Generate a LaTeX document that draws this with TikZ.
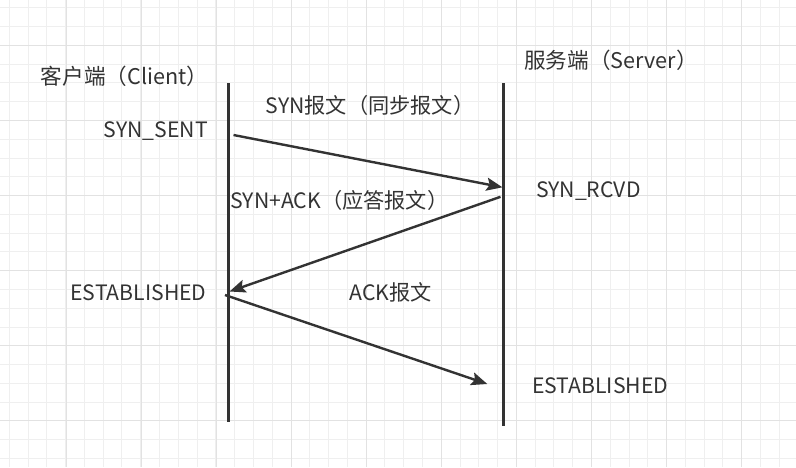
\documentclass[tikz,border=0pt]{standalone}
\usepackage{fontspec}
\setmainfont{Noto Sans CJK SC}
\usetikzlibrary{arrows.meta}
\definecolor{ink}{HTML}{333333}
\definecolor{gridminor}{HTML}{EFEFEF}
\definecolor{gridmajor}{HTML}{E2E2E2}
\begin{document}
\begin{tikzpicture}[x=1pt,y=-1pt,
  life/.style={draw=ink, line width=2.8pt},
  msg/.style={draw=ink, line width=2.4pt, -{Stealth[length=16pt,width=13pt,inset=3pt]}},
  ttl/.style={text=ink, font=\fontsize{21.6}{25}\selectfont, inner sep=0pt},
  lab/.style={text=ink, font=\fontsize{21.2}{24}\selectfont, inner sep=0pt}]
\useasboundingbox[fill=white] (0,0) rectangle (796,467);
% background grid
\foreach \gx in {0,...,42}
  \draw[gridminor, line width=1pt] ({9.3+18.78*\gx},0) -- ({9.3+18.78*\gx},467);
\foreach \gy in {0,...,24}
  \draw[gridminor, line width=1pt] (0,{7.8+18.78*\gy}) -- (796,{7.8+18.78*\gy});
\foreach \gx in {0,...,9}
  \draw[gridmajor, line width=1pt] ({66+75.1*\gx},0) -- ({66+75.1*\gx},467);
\foreach \gy in {0,...,5}
  \draw[gridmajor, line width=1pt] (0,{45.3+75.1*\gy}) -- (796,{45.3+75.1*\gy});
% lifelines
\coordinate (ctop) at (228.5,83);
\coordinate (cbot) at (228.5,422);
\coordinate (stop) at (503.3,83);
\coordinate (sbot) at (503.3,425.5);
\draw[life] (ctop) -- (cbot);
\draw[life] (stop) -- (sbot);
% message ends
\coordinate (syn0) at (233.5,135);
\coordinate (syn1) at (502.5,187.3);
\coordinate (ack0) at (500.5,196.8);
\coordinate (ack1) at (229.5,291.5);
\coordinate (fin0) at (225,295);
\coordinate (fin1) at (487.3,384);
\draw[msg] (syn0) -- (syn1);
\draw[msg] (ack0) -- (ack1);
\draw[msg] (fin0) -- (fin1);
% labels
\node[ttl] (client) at (124.5,76) {客户端（Client）};
\node[ttl] (server) at (611,60) {服务端（Server）};
\node[lab, anchor=east] (synsent) at (208,131) {SYN\_SENT};
\node[lab] (synmsg) at (370,105) {SYN报文（同步报文）};
\node[lab, anchor=west] (synrcvd) at (536,191.5) {SYN\_RCVD};
\node[lab] (synack) at (339.5,200.5) {SYN+ACK（应答报文）};
\node[lab, anchor=east] (estc) at (206.7,292.5) {ESTABLISHED};
\node[lab] (ackmsg) at (390.5,292.5) {ACK报文};
\node[lab, anchor=west] (ests) at (532,386) {ESTABLISHED};
\end{tikzpicture}
\end{document}
